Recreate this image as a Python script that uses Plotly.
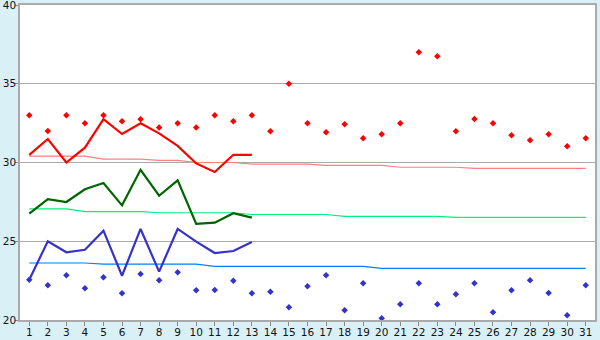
import plotly.graph_objects as go

days = list(range(1, 32))
days13 = list(range(1, 14))

# thick lines (days 1-13)
max_temp = [30.48, 31.49, 30.0, 30.94, 32.76, 31.81, 32.49, 31.85, 31.05, 29.94, 29.40, 30.49, 30.49]
mean_temp = [26.75, 27.68, 27.49, 28.30, 28.70, 27.28, 29.54, 27.89, 28.87, 26.10, 26.18, 26.78, 26.50]
min_temp = [22.56, 25.0, 24.30, 24.46, 25.67, 22.81, 25.78, 23.07, 25.78, 24.98, 24.25, 24.38, 24.95]

# diamonds (days 1-31)
high_pts = [33.0, 32.0, 33.0, 32.49, 33.0, 32.62, 32.74, 32.23, 32.49, 32.23, 33.0, 32.62, 33.0,
            31.98, 35.0, 32.49, 31.92, 32.43, 31.54, 31.79, 32.49, 37.0, 36.74, 31.98, 32.76,
            32.49, 31.73, 31.41, 31.79, 31.03, 31.54]
low_pts = [22.56, 22.2, 22.84, 22.01, 22.71, 21.70, 22.92, 22.52, 23.03, 21.89, 21.9, 22.5, 21.7,
           21.8, 20.81, 22.14, 22.84, 20.62, 22.33, 20.11, 21.0, 22.33, 21.0, 21.63, 22.33,
           20.49, 21.89, 22.52, 21.71, 20.30, 22.2]

# normal lines (days 1-31)
norm_max = [30.41, 30.41, 30.41, 30.41, 30.22, 30.22, 30.22, 30.14, 30.14, 30.0, 30.0, 30.0, 29.9,
            29.9, 29.9, 29.9, 29.82, 29.82, 29.82, 29.82, 29.7, 29.7, 29.7, 29.7, 29.63,
            29.63, 29.63, 29.63, 29.63, 29.63, 29.63]
norm_mean = [27.05, 27.05, 27.05, 26.88, 26.88, 26.88, 26.88, 26.81, 26.81, 26.81, 26.81, 26.81, 26.70,
             26.70, 26.70, 26.70, 26.70, 26.58, 26.58, 26.58, 26.58, 26.58, 26.58, 26.52, 26.52,
             26.52, 26.52, 26.52, 26.52, 26.52, 26.52]
norm_min = [23.62, 23.62, 23.62, 23.62, 23.55, 23.55, 23.55, 23.55, 23.55, 23.55, 23.41, 23.41, 23.41,
            23.41, 23.41, 23.41, 23.41, 23.41, 23.41, 23.28, 23.28, 23.28, 23.28, 23.28, 23.28,
            23.28, 23.28, 23.28, 23.28, 23.28, 23.28]

y_ticks = [20, 25, 30, 35, 40]

fig = go.Figure()
fig.add_trace(go.Scatter(x=days, y=norm_max, mode="lines", line=dict(color="#ff8080", width=1.2)))
fig.add_trace(go.Scatter(x=days, y=norm_mean, mode="lines", line=dict(color="#00f080", width=1.2)))
fig.add_trace(go.Scatter(x=days, y=norm_min, mode="lines", line=dict(color="#0080ff", width=1.2)))
fig.add_trace(go.Scatter(x=days13, y=max_temp, mode="lines", line=dict(color="#ff0000", width=2.2)))
fig.add_trace(go.Scatter(x=days13, y=mean_temp, mode="lines", line=dict(color="#006400", width=2.2)))
fig.add_trace(go.Scatter(x=days13, y=min_temp, mode="lines", line=dict(color="#3333cc", width=2.2)))
fig.add_trace(go.Scatter(x=days, y=high_pts, mode="markers",
                         marker=dict(symbol="diamond", size=5, color="#ff0000")))
fig.add_trace(go.Scatter(x=days, y=low_pts, mode="markers",
                         marker=dict(symbol="diamond", size=5, color="#3333cc")))

fig.update_layout(
    width=600, height=340,
    margin=dict(l=20, r=5, t=5, b=20),
    paper_bgcolor="#d9f0f7",
    plot_bgcolor="#ffffff",
    showlegend=False,
    font=dict(family="DejaVu Sans", size=11, color="#111111"),
)
fig.update_xaxes(
    range=[0.5, 31.5], tickmode="array", tickvals=days, ticktext=[str(d) for d in days],
    showgrid=False, zeroline=False, showline=True, linecolor="#aaaaaa", linewidth=1.5,
    mirror=True, ticks="outside", ticklen=4, tickcolor="#888888", automargin=False,
    ticklabelstandoff=-2, tickfont=dict(size=10.5), ticklabeloverflow="allow",
)
fig.update_yaxes(
    range=[20, 40], tickmode="array", tickvals=y_ticks, ticktext=[str(v) for v in y_ticks],
    showgrid=True, gridcolor="#aaaaaa", gridwidth=1, zeroline=False,
    showline=True, linecolor="#aaaaaa", linewidth=1.5, mirror=True,
    ticks="outside", ticklen=3, tickcolor="#888888", automargin=False,
    ticklabelstandoff=-3, tickfont=dict(size=10.5), ticklabeloverflow="allow",
)

fig.write_html("out.html")
